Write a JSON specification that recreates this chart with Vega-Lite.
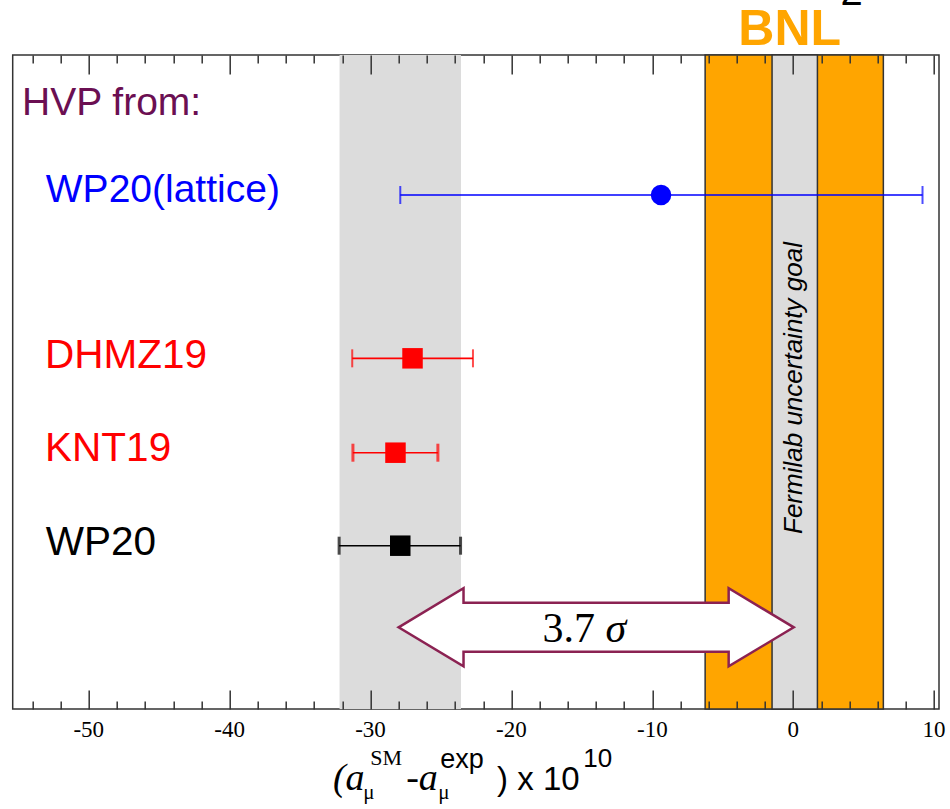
{
  "$schema": "https://vega.github.io/schema/vega-lite/v6.json",
  "width": 926.3,
  "height": 654,
  "autosize": {"type": "none"},
  "padding": {"left": 12.7, "top": 55, "right": 11, "bottom": 100},
  "background": "white",
  "config": {
    "view": {"stroke": "#333", "strokeWidth": 1.5},
    "font": "Liberation Sans"
  },
  "datasets": {
    "pts": [
      {"s": "WP20(lattice)", "v": -9.38, "lo": -27.89, "hi": 9.18, "y": 78.59},
      {"s": "DHMZ19", "v": -27.02, "lo": -31.3, "hi": -22.73, "y": 53.62},
      {"s": "KNT19", "v": -28.23, "lo": -31.25, "hi": -25.22, "y": 39.19},
      {"s": "WP20", "v": -27.89, "lo": -32.23, "hi": -23.61, "y": 24.97}
    ],
    "labels": [
      {"s": "HVP", "t": "HVP from:", "x": -54.74, "y": 90.83},
      {"s": "WP20(lattice)", "t": "WP20(lattice)", "x": -53.05, "y": 77.57},
      {"s": "DHMZ19", "t": "DHMZ19", "x": -53.1, "y": 52.19},
      {"s": "KNT19", "t": "KNT19", "x": -53.1, "y": 37.92},
      {"s": "WP20", "t": "WP20", "x": -53.05, "y": 23.55}
    ],
    "ticklabels": [
      {"v": -50, "t": "-50"}, {"v": -40, "t": "-40"}, {"v": -30, "t": "-30"}, {"v": -20, "t": "-20"},
      {"v": -10, "t": "-10"}, {"v": 0, "t": "0"}, {"v": 10, "t": "10"}
    ],
    "arrow": [
      {"i": 0, "x": -28.01, "y": 12.49},
      {"i": 1, "x": -23.4, "y": 18.46},
      {"i": 2, "x": -23.4, "y": 16.25},
      {"i": 3, "x": -4.58, "y": 16.25},
      {"i": 4, "x": -4.58, "y": 18.46},
      {"i": 5, "x": 0.04, "y": 12.49},
      {"i": 6, "x": -4.58, "y": 6.52},
      {"i": 7, "x": -4.58, "y": 8.76},
      {"i": 8, "x": -23.4, "y": 8.76},
      {"i": 9, "x": -23.4, "y": 6.52}
    ]
  },
  "resolve": {"axis": {"x": "independent"}},
  "layer": [
    {
      "data": {"values": [{"lo": -32.2, "hi": -23.58}]},
      "mark": {"type": "rect", "fill": "#dcdcdc"},
      "encoding": {
        "x": {"field": "lo", "type": "quantitative", "scale": {"domain": [-55.4, 10.35], "nice": false, "zero": false},
          "axis": {"orient": "bottom", "values": [-54,-52,-50,-48,-46,-44,-42,-40,-38,-36,-34,-32,-30,-28,-26,-24,-22,-20,-18,-16,-14,-12,-10,-8,-6,-4,-2,0,2,4,6,8,10],
            "domain": false, "grid": false, "ticks": true, "tickColor": "#333", "tickWidth": 1.5,
            "tickSize": {"condition": {"test": "datum.value % 10 === 0", "value": -19}, "value": -8},
            "labels": false, "title": null, "zindex": 1}},
        "x2": {"field": "hi"}
      }
    },
    {
      "data": {"values": [{"lo": -6.25, "hi": 6.4}]},
      "mark": {"type": "rect", "fill": "#ffa500", "stroke": "#333", "strokeWidth": 1.5},
      "encoding": {
        "x": {"field": "lo", "type": "quantitative", "scale": {"domain": [-55.4, 10.35], "nice": false, "zero": false},
          "axis": {"orient": "top", "values": [-54,-52,-50,-48,-46,-44,-42,-40,-38,-36,-34,-32,-30,-28,-26,-24,-22,-20,-18,-16,-14,-12,-10,-8,-6,-4,-2,0,2,4,6,8,10],
            "domain": false, "grid": false, "ticks": true, "tickColor": "#333", "tickWidth": 1.5,
            "tickSize": {"condition": {"test": "datum.value % 10 === 0", "value": -19}, "value": -8},
            "labels": false, "title": null, "zindex": 1}},
        "x2": {"field": "hi"}
      }
    },
    {
      "data": {"values": [{"lo": -1.5, "hi": 1.72}]},
      "mark": {"type": "rect", "fill": "#dcdcdc", "stroke": "#333", "strokeWidth": 1.5},
      "encoding": {
        "x": {"field": "lo", "type": "quantitative", "axis": null},
        "x2": {"field": "hi"}
      }
    },
    {
      "data": {"values": [{"t": "Fermilab uncertainty goal", "x": 0.09, "y": 49.08}]},
      "mark": {"type": "text", "angle": 270, "align": "center", "baseline": "middle", "font": "Liberation Sans", "fontStyle": "italic", "fontSize": 26, "color": "#000"},
      "encoding": {
        "x": {"field": "x", "type": "quantitative", "axis": null},
        "y": {"field": "y", "type": "quantitative", "scale": {"domain": [0, 100], "nice": false, "zero": false}, "axis": null},
        "text": {"field": "t"}
      }
    },
    {
      "data": {"name": "pts"},
      "mark": {"type": "rule"},
      "encoding": {
        "x": {"field": "lo", "type": "quantitative", "axis": null},
        "x2": {"field": "hi"},
        "y": {"field": "y", "type": "quantitative", "scale": {"domain": [0, 100], "nice": false, "zero": false}, "axis": null},
        "color": {"field": "s", "type": "nominal", "legend": null,
          "scale": {"domain": ["HVP", "WP20(lattice)", "DHMZ19", "KNT19", "WP20"], "range": ["#6b0f52", "#0000ff", "#ff0000", "#ff0000", "#000000"]}},
        "strokeWidth": {"field": "s", "type": "ordinal", "legend": null,
          "scale": {"domain": ["WP20(lattice)", "DHMZ19", "KNT19", "WP20"], "range": [1.6, 1.6, 2.6, 2.2]}}
      }
    },
    {
      "data": {"name": "pts"},
      "transform": [{"filter": "datum.s === 'WP20(lattice)' || datum.s === 'DHMZ19'"}, {"fold": ["lo", "hi"], "as": ["end", "xe"]}],
      "mark": {"type": "tick", "orient": "vertical", "size": 18, "thickness": 2},
      "encoding": {
        "x": {"field": "xe", "type": "quantitative", "axis": null},
        "y": {"field": "y", "type": "quantitative", "scale": {"domain": [0, 100], "nice": false, "zero": false}, "axis": null},
        "color": {"field": "s", "type": "nominal", "legend": null}
      }
    },
    {
      "data": {"name": "pts"},
      "transform": [{"filter": "datum.s === 'KNT19' || datum.s === 'WP20'"}, {"fold": ["lo", "hi"], "as": ["end", "xe"]}],
      "mark": {"type": "tick", "orient": "vertical", "size": 18, "thickness": 3},
      "encoding": {
        "x": {"field": "xe", "type": "quantitative", "axis": null},
        "y": {"field": "y", "type": "quantitative", "scale": {"domain": [0, 100], "nice": false, "zero": false}, "axis": null},
        "color": {"field": "s", "type": "nominal", "legend": null}
      }
    },
    {
      "data": {"name": "pts"},
      "mark": {"type": "point", "filled": true, "opacity": 1, "size": 420},
      "encoding": {
        "x": {"field": "v", "type": "quantitative", "axis": null},
        "y": {"field": "y", "type": "quantitative", "scale": {"domain": [0, 100], "nice": false, "zero": false}, "axis": null},
        "color": {"field": "s", "type": "nominal", "legend": null},
        "shape": {"field": "s", "type": "nominal", "legend": null,
          "scale": {"domain": ["WP20(lattice)", "DHMZ19", "KNT19", "WP20"], "range": ["circle", "square", "square", "square"]}}
      }
    },
    {
      "data": {"name": "labels"},
      "transform": [{"filter": "datum.s === 'HVP' || datum.s === 'WP20(lattice)'"}],
      "mark": {"type": "text", "align": "left", "baseline": "alphabetic", "font": "Liberation Sans", "fontSize": 39},
      "encoding": {
        "x": {"field": "x", "type": "quantitative", "axis": null},
        "y": {"field": "y", "type": "quantitative", "scale": {"domain": [0, 100], "nice": false, "zero": false}, "axis": null},
        "color": {"field": "s", "type": "nominal", "legend": null},
        "text": {"field": "t"}
      }
    },
    {
      "data": {"name": "labels"},
      "transform": [{"filter": "datum.s !== 'HVP' && datum.s !== 'WP20(lattice)'"}],
      "mark": {"type": "text", "align": "left", "baseline": "alphabetic", "font": "Liberation Sans", "fontSize": 40.5},
      "encoding": {
        "x": {"field": "x", "type": "quantitative", "axis": null},
        "y": {"field": "y", "type": "quantitative", "scale": {"domain": [0, 100], "nice": false, "zero": false}, "axis": null},
        "color": {"field": "s", "type": "nominal", "legend": null},
        "text": {"field": "t"}
      }
    },
    {
      "data": {"name": "ticklabels"},
      "mark": {"type": "text", "align": "center", "baseline": "alphabetic", "font": "Liberation Serif", "fontSize": 23, "color": "#000"},
      "encoding": {
        "x": {"field": "v", "type": "quantitative", "axis": null},
        "y": {"datum": -4.24, "type": "quantitative", "scale": {"domain": [0, 100], "nice": false, "zero": false}, "axis": null},
        "text": {"field": "t"}
      }
    },
    {
      "data": {"values": [{"t": "BNL", "x": -0.25, "y": 101.5}]},
      "mark": {"type": "text", "align": "center", "baseline": "alphabetic", "font": "Liberation Sans", "fontWeight": "bold", "fontSize": 50, "color": "#ffa500"},
      "encoding": {
        "x": {"field": "x", "type": "quantitative", "axis": null},
        "y": {"field": "y", "type": "quantitative", "scale": {"domain": [0, 100], "nice": false, "zero": false}, "axis": null},
        "text": {"field": "t"}
      }
    },
    {
      "data": {"values": [{"t": "2", "x": 4.14, "y": 107.65}]},
      "mark": {"type": "text", "align": "center", "baseline": "alphabetic", "font": "Liberation Sans", "fontSize": 40, "color": "#000"},
      "encoding": {
        "x": {"field": "x", "type": "quantitative", "axis": null},
        "y": {"field": "y", "type": "quantitative", "scale": {"domain": [0, 100], "nice": false, "zero": false}, "axis": null},
        "text": {"field": "t"}
      }
    },
    {
      "data": {"name": "arrow"},
      "mark": {"type": "line", "interpolate": "linear-closed", "fill": "white", "fillOpacity": 1, "stroke": "#8b2252", "strokeWidth": 2.5, "strokeJoin": "miter", "opacity": 1},
      "encoding": {
        "x": {"field": "x", "type": "quantitative", "axis": null},
        "y": {"field": "y", "type": "quantitative", "scale": {"domain": [0, 100], "nice": false, "zero": false}, "axis": null},
        "order": {"field": "i", "type": "quantitative"}
      }
    },
    {
      "data": {"values": [{"t": "3.7", "x": -17.79, "y": 10.29}]},
      "mark": {"type": "text", "align": "left", "baseline": "alphabetic", "font": "Liberation Serif", "fontSize": 42, "color": "#000"},
      "encoding": {
        "x": {"field": "x", "type": "quantitative", "axis": null},
        "y": {"field": "y", "type": "quantitative", "scale": {"domain": [0, 100], "nice": false, "zero": false}, "axis": null},
        "text": {"field": "t"}
      }
    },
    {
      "data": {"values": [{"t": "σ", "x": -13.33, "y": 10.29}]},
      "mark": {"type": "text", "align": "left", "baseline": "alphabetic", "font": "Liberation Serif", "fontStyle": "italic", "fontSize": 42, "color": "#000"},
      "encoding": {
        "x": {"field": "x", "type": "quantitative", "axis": null},
        "y": {"field": "y", "type": "quantitative", "scale": {"domain": [0, 100], "nice": false, "zero": false}, "axis": null},
        "text": {"field": "t"}
      }
    },
    {
      "data": {"values": [{"t": "(a", "x": -32.67, "y": -12.39}, {"t": "-a", "x": -27.47, "y": -12.39}]},
      "mark": {"type": "text", "align": "left", "baseline": "alphabetic", "font": "Liberation Serif", "fontStyle": "italic", "fontSize": 38, "color": "#000"},
      "encoding": {
        "x": {"field": "x", "type": "quantitative", "axis": null},
        "y": {"field": "y", "type": "quantitative", "scale": {"domain": [0, 100], "nice": false, "zero": false}, "axis": null},
        "text": {"field": "t"}
      }
    },
    {
      "data": {"values": [{"t": "μ", "x": -30.52, "y": -13.76}, {"t": "μ", "x": -25.19, "y": -13.76}]},
      "mark": {"type": "text", "align": "left", "baseline": "alphabetic", "font": "Liberation Serif", "fontSize": 21, "color": "#000"},
      "encoding": {
        "x": {"field": "x", "type": "quantitative", "axis": null},
        "y": {"field": "y", "type": "quantitative", "scale": {"domain": [0, 100], "nice": false, "zero": false}, "axis": null},
        "text": {"field": "t"}
      }
    },
    {
      "data": {"values": [{"t": "SM", "x": -30.02, "y": -8.56}]},
      "mark": {"type": "text", "align": "left", "baseline": "alphabetic", "font": "Liberation Serif", "fontSize": 22, "color": "#000"},
      "encoding": {
        "x": {"field": "x", "type": "quantitative", "axis": null},
        "y": {"field": "y", "type": "quantitative", "scale": {"domain": [0, 100], "nice": false, "zero": false}, "axis": null},
        "text": {"field": "t"}
      }
    },
    {
      "data": {"values": [{"t": "exp", "x": -25.05, "y": -9.02}]},
      "mark": {"type": "text", "align": "left", "baseline": "alphabetic", "font": "Liberation Sans", "fontSize": 27, "color": "#000"},
      "encoding": {
        "x": {"field": "x", "type": "quantitative", "axis": null},
        "y": {"field": "y", "type": "quantitative", "scale": {"domain": [0, 100], "nice": false, "zero": false}, "axis": null},
        "text": {"field": "t"}
      }
    },
    {
      "data": {"values": [{"t": ") x 10", "x": -21.02, "y": -12.39}]},
      "mark": {"type": "text", "align": "left", "baseline": "alphabetic", "font": "Liberation Sans", "fontSize": 33, "color": "#000"},
      "encoding": {
        "x": {"field": "x", "type": "quantitative", "axis": null},
        "y": {"field": "y", "type": "quantitative", "scale": {"domain": [0, 100], "nice": false, "zero": false}, "axis": null},
        "text": {"field": "t"}
      }
    },
    {
      "data": {"values": [{"t": "10", "x": -14.9, "y": -8.82}]},
      "mark": {"type": "text", "align": "left", "baseline": "alphabetic", "font": "Liberation Sans", "fontSize": 26, "color": "#000"},
      "encoding": {
        "x": {"field": "x", "type": "quantitative", "axis": null},
        "y": {"field": "y", "type": "quantitative", "scale": {"domain": [0, 100], "nice": false, "zero": false}, "axis": null},
        "text": {"field": "t"}
      }
    }
  ]
}
